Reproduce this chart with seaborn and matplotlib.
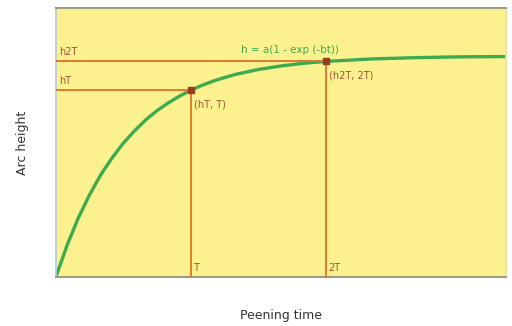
import matplotlib
matplotlib.use("Agg")
import matplotlib.pyplot as plt
import seaborn as sns
import pandas as pd

# Curve points (peening time vs arc height)
times = [0, 0.25, 0.5, 0.75, 1, 1.25, 1.5, 1.75, 2, 2.25, 2.5, 2.75, 3, 3.25, 3.5, 3.75,
         4, 4.5, 5, 5.5, 6, 7, 8, 9, 10]
heights = [0, 0.118, 0.220, 0.306, 0.381, 0.443, 0.498, 0.544, 0.585, 0.619, 0.648, 0.673,
           0.695, 0.713, 0.729, 0.742, 0.754, 0.772, 0.785, 0.795, 0.802, 0.811, 0.816,
           0.819, 0.820]

# Marked points
mark_t = [3, 6]
mark_h = [0.695, 0.802]
mark_labels = ["(hT, T)", "(h2T, 2T)"]
y_labels = ["hT", "h2T"]
x_labels = ["T", "2T"]
equation = "h = a(1 - exp (-bt))"

sns.set_theme(style="white")
plt.rcParams['font.family'] = ['DejaVu Sans']

fig = plt.figure(figsize=(5.12, 3.26), dpi=100)
ax = fig.add_axes([0.109, 0.150, 0.879, 0.825])
ax.set_facecolor("#FCF18F")

orange = "#E07A2C"
green = "#3DAA4E"

df = pd.DataFrame({"t": times, "h": heights})
sns.lineplot(data=df, x="t", y="h", ax=ax, color=green, linewidth=2.4)

for t, h in zip(mark_t, mark_h):
    ax.plot([t, t], [0, h], color=orange, linewidth=1.4, zorder=3)
    ax.plot([0, t], [h, h], color=orange, linewidth=1.4, zorder=3)
    ax.plot([t], [h], marker="s", markersize=4, color="#9B3B1E", zorder=4)

for t, h, lab in zip(mark_t, mark_h, mark_labels):
    ax.text(t + 0.08, h - 0.035, lab, color="#A0522D", fontsize=7, va="top", ha="left")
for h, lab in zip(mark_h, y_labels):
    ax.text(0.08, h + 0.015, lab, color="#A0522D", fontsize=7, va="bottom", ha="left")
for t, lab in zip(mark_t, x_labels):
    ax.text(t + 0.05, 0.015, lab, color="#A0522D", fontsize=7, va="bottom", ha="left")

ax.text(5.2, 0.825, equation, color=green, fontsize=7.5, ha="center", va="bottom")

ax.set_xlim(0, 10)
ax.set_ylim(0, 1)
ax.set_xticks([])
ax.set_yticks([])
ax.set_xlabel("Peening time", fontsize=9, color="#333333", labelpad=23)
ax.set_ylabel("Arc height", fontsize=9, color="#333333", labelpad=19)
for side in ["top", "bottom"]:
    ax.spines[side].set_color("#A09A80")
    ax.spines[side].set_linewidth(1.5)
ax.spines["left"].set_color("#B8C8D8")
ax.spines["right"].set_color("#E8E0A0")

fig.savefig("out.png", dpi=100)
